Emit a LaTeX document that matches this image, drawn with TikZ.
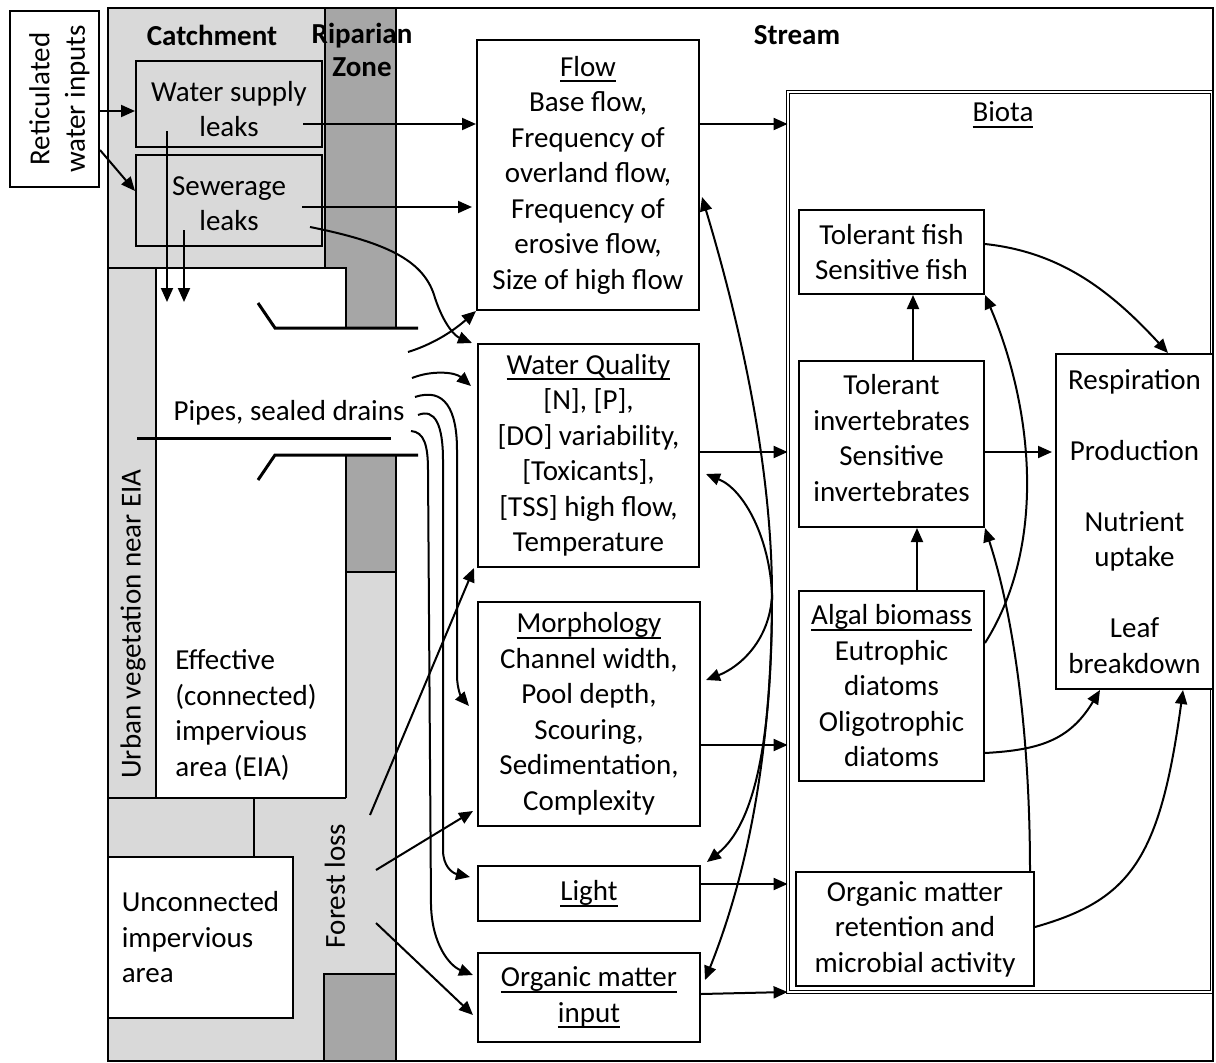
\documentclass[tikz,border=0pt]{standalone}
\usepackage{fontspec}
\setmainfont{Carlito}
\usetikzlibrary{arrows.meta,calc}
\definecolor{catchgray}{HTML}{D9D9D9}
\definecolor{ripgray}{HTML}{A6A6A6}
% underline with a rule that scales with the large type
\newcommand{\ulined}[1]{\setbox0\hbox{#1}\rlap{\rule[-6pt]{\wd0}{2pt}}\box0}
\tikzset{
  fnt/.style={font=\fontsize{29}{35.5}\selectfont},
  box/.style={fnt, draw, line width=2pt, fill=white, inner sep=0pt, align=center},
  txt/.style={fnt, inner sep=0pt, align=center},
  head/.style={inner sep=0pt, align=center, font=\fontsize{29}{33}\selectfont\bfseries},
  wall/.style={line width=2pt},
  pipe/.style={line width=3pt},
  link/.style={line width=2pt, -{Triangle[length=14pt,width=12pt]}},
  twoway/.style={line width=2pt, {Triangle[length=14pt,width=12pt]}-{Triangle[length=14pt,width=12pt]}},
}
\begin{document}
\begin{tikzpicture}[x=1pt,y=-1pt]
\useasboundingbox (0,0) rectangle (1216,1063);

% ---------------- catchment and riparian zone ----------------
\fill[catchgray] (108,8) rectangle (396,1061);
\filldraw[wall, fill=ripgray] (325,8) -- (396,8) -- (396,328) -- (346,328) -- (346,268) -- (325,268) -- cycle;
\filldraw[wall, fill=ripgray] (346,455) rectangle (396,572);
\filldraw[wall, fill=ripgray] (324,974) rectangle (396,1061);
% effective impervious area with the pipe outlet
\fill[white] (156,268) -- (346,268) -- (346,328) -- (396,328) -- (396,455) -- (346,455) -- (346,798) -- (156,798) -- cycle;
\draw[wall] (346,328) -- (346,268) -- (156,268) -- (156,798);
\draw[wall] (346,455) -- (346,798);
\draw[wall] (108,798) -- (346,798);
\draw[wall] (108,268) -- (325,268);
\draw[wall] (254,798) -- (254,857);
\draw[wall] (396,455) -- (396,1061);
% pipes
\draw[pipe] (258,303) -- (275,328) -- (418,328);
\draw[pipe] (258,480) -- (275,455) -- (418,455);
\draw[pipe] (137,438) -- (391,438);

% ---------------- headings and area labels ----------------
\node[head] (catch) at (212,35) {Catchment};
\node[head] (rip) at (362,50) {Riparian\\Zone};
\node[head] (stream) at (797,35) {Stream};
\node[txt, rotate=90] (urb) at (133,624) {Urban vegetation near EIA};
\node[txt, rotate=90] (forest) at (335,886) {Forest loss};
\node[txt] (pipes) at (289,413) {Pipes, sealed drains};
\node[txt, align=left] (eia) at (246,715) {Effective\\(connected)\\impervious\\area (EIA)};

% ---------------- catchment boxes ----------------
\node[box, minimum width=89pt, minimum height=176pt] (ret) at (54.5,99) {};
\node[txt, rotate=90] (rettext) at ($(ret.center)+(5,0)$) {Reticulated\\water inputs};
\node[box, fill=catchgray, minimum width=186pt, minimum height=86pt] (wsl) at (229,104) {};
\node[txt] (wsltext) at ($(wsl.center)+(0,5)$) {Water supply\\leaks};
\node[box, fill=catchgray, minimum width=186pt, minimum height=91pt] (sew) at (229,200.5) {};
\node[txt] (sewtext) at ($(sew.center)+(0,3)$) {Sewerage\\leaks};
\node[box, align=left, minimum width=185pt, minimum height=161pt] (unc) at (200.5,937.5) {Unconnected\\impervious\\area};

% ---------------- stream drivers ----------------
\node[box, minimum width=222pt, minimum height=270pt] (flow) at (588,175)
  {\ulined{Flow}\\Base flow,\\Frequency of\\overland flow,\\Frequency of\\erosive flow,\\Size of high flow};
\node[box, minimum width=221pt, minimum height=223pt] (wq) at (588.5,455.5)
  {\ulined{Water Quality}\\{[N], [P],}\\{[DO] variability,}\\{[Toxicants],}\\{[TSS] high flow,}\\Temperature};
\node[box, minimum width=222pt, minimum height=224pt] (morph) at (589,714)
  {\ulined{Morphology}\\Channel width,\\Pool depth,\\Scouring,\\Sedimentation,\\Complexity};
\node[box, minimum width=222pt, minimum height=55pt] (light) at (589,893.5) {\ulined{Light}};
\node[box, minimum width=222pt, minimum height=89pt] (omi) at (589,997.5) {\ulined{Organic matter}\\\ulined{input}};

% ---------------- biota ----------------
\node[draw, double, double distance=1.5pt, line width=0.8pt, minimum width=424pt, minimum height=900pt, inner sep=0pt] (biota) at (1000,542) {};
% outer frame, on top of the biota frame
\draw[wall] (396,8) -- (108,8) -- (108,1061) -- (1213,1061) -- (1213,8) -- (396,8);
\node[txt] (biotatitle) at (1003,115) {\ulined{Biota}};
\node[box, minimum width=185pt, minimum height=84pt] (fish) at (891.5,252) {Tolerant fish\\Sensitive fish};
\node[box, minimum width=185pt, minimum height=166pt] (inv) at (891.5,444) {};
\node[txt] (invtext) at ($(inv.center)+(0,-6)$) {Tolerant\\invertebrates\\Sensitive\\invertebrates};
\node[box, minimum width=185pt, minimum height=190pt] (alg) at (891.5,686)
  {\ulined{Algal biomass}\\Eutrophic\\diatoms\\Oligotrophic\\diatoms};
\node[box, minimum width=238pt, minimum height=114pt] (omr) at (915,929) {Organic matter\\retention and\\microbial activity};
\node[box, minimum width=157pt, minimum height=335pt] (resp) at (1134.5,521.5)
  {Respiration\\[35.5pt]Production\\[35.5pt]Nutrient\\uptake\\[35.5pt]Leaf\\breakdown};

% ---------------- free ends of connectors ----------------
\coordinate (wsdrop) at (167,131);
\coordinate (wsland) at (167,302);
\coordinate (swdrop) at (184,230);
\coordinate (swland) at (184,302);
\coordinate (wsout) at (303,124);
\coordinate (swout) at (302,207);
\coordinate (swseep) at (310,227);
\coordinate (pipeA) at (408,352);
\coordinate (pipeB) at (412,378);
\coordinate (pipeC) at (415,397);
\coordinate (pipeD) at (418,415);
\coordinate (pipeE) at (411,431);
\coordinate (forestA) at (370,815);
\coordinate (forestB) at (376,870);
\coordinate (forestC) at (376,923);
\coordinate (hub) at (772,595);

% ---------------- catchment connectors ----------------
\draw[link] (ret.east |- 0,111) -- (wsl.west |- 0,111);
\draw[link] (ret.east |- 0,150) -- (sew.west |- 0,191);
\draw[link] (wsdrop) -- (wsland);
\draw[link] (swdrop) -- (swland);
\draw[link] (wsout) -- (flow.west |- wsout);
\draw[link] (swout) -- ($(flow.west |- swout)+(-4,0)$);
\draw[link] (swseep) .. controls (390,243) and (425,262) .. (435,298) .. controls (444,325) and (455,336) .. ($(wq.north west)+(-5,0)$);
\draw[link] (pipeA) .. controls (440,342) and (460,325) .. (flow.south west);
\draw[link] (pipeB) .. controls (432,370) and (455,372) .. ($(wq.west |- 0,386)+(-6,0)$);
\draw[link] (pipeC) .. controls (445,387) and (457,410) .. (457,450) -- (457,675) .. controls (457,690) and (462,698) .. ($(morph.west |- 0,706)+(-8,0)$);
\draw[link] (pipeD) .. controls (435,408) and (443,425) .. (443,460) -- (443,850) .. controls (443,866) and (452,873) .. ($(light.west |- 0,877)+(-7,0)$);
\draw[link] (pipeE) .. controls (424,432) and (428,445) .. (428,470) -- (431,905) .. controls (432,945) and (450,966) .. ($(omi.west |- 0,975)+(-4,0)$);
\draw[link] (forestA) -- ($(wq.south west)+(-3,0)$);
\draw[link] (forestB) -- ($(morph.west |- 0,811)+(-4,0)$);
\draw[link] (forestC) -- ($(omi.west |- 0,1015)+(-4,0)$);

% ---------------- stream connectors ----------------
\draw[link] (flow.east |- 0,124) -- (biota.west |- 0,124);
\draw[link] (wq.east |- 0,452) -- (biota.west |- 0,452);
\draw[link] (morph.east |- 0,745) -- (biota.west |- 0,745);
\draw[link] (light.east |- 0,884) -- (biota.west |- 0,884);
\draw[link] (omi.east |- 0,994) -- (biota.west |- 0,992);
\draw[twoway] ($(flow.east |- 0,197)+(2,0)$) .. controls (742,330) and (772,470) .. (hub) .. controls (772,760) and (745,880) .. ($(omi.east |- 0,980)+(4,0)$);
\draw[twoway] ($(wq.east |- 0,474)+(6,0)$) .. controls (745,490) and (770,540) .. (hub) .. controls (772,720) and (760,820) .. ($(light.east |- 0,862)+(6,0)$);
\draw[link] (hub) .. controls (770,640) and (740,667) .. ($(morph.east |- 0,680)+(5,0)$);

% ---------------- biota connectors ----------------
\draw[link] (inv.north -| 913,0) -- (fish.south -| 913,0);
\draw[link] (alg.north -| 917,0) -- (inv.south -| 917,0);
\draw[link] (inv.east |- 0,452) -- ($(resp.west |- 0,452)+(-3,0)$);
\draw[link] (fish.east |- 0,244) .. controls (1060,252) and (1110,290) .. (resp.north -| 1168,0);
\draw[link] (alg.east |- 0,643) .. controls (1050,540) and (1030,400) .. (fish.south east);
\draw[link] (omr.north -| 1030,0) .. controls (1030,740) and (1015,620) .. (inv.south east);
\draw[link] (alg.east |- 0,753) .. controls (1040,750) and (1070,740) .. (resp.south -| 1100,0);
\draw[link] (omr.east |- 0,927) .. controls (1130,900) and (1160,860) .. (resp.south -| 1183,0);
\end{tikzpicture}
\end{document}
